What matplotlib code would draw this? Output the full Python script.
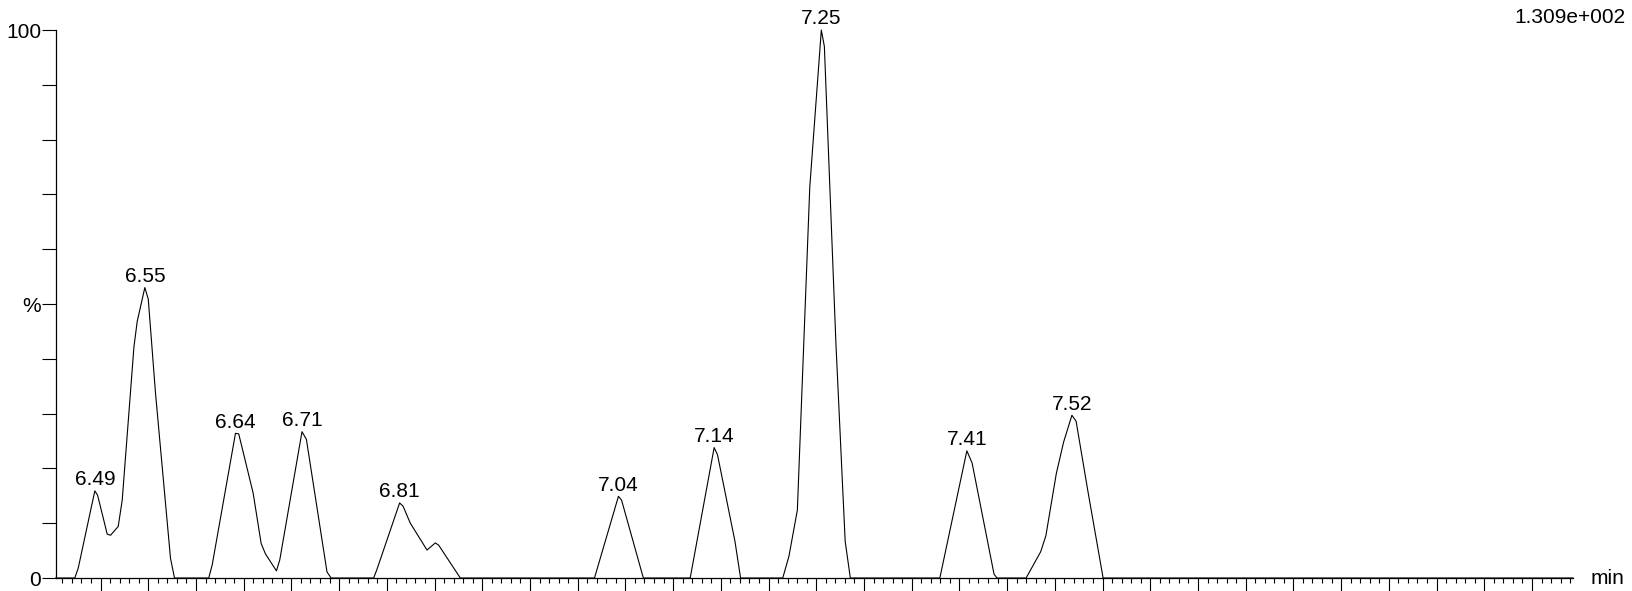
import matplotlib
matplotlib.use('Agg')
import matplotlib.pyplot as plt
import numpy as np

plt.rcParams['font.family'] = ['Liberation Sans', 'DejaVu Sans']

# chromatogram trace (retention time in min, relative intensity in %)
rt = [6.453, 6.473, 6.4766, 6.494, 6.4969, 6.507, 6.5105, 6.5185, 6.5227, 6.535,
      6.5384, 6.5464, 6.550, 6.5576, 6.5733, 6.5775,
      6.6134, 6.617, 6.6414, 6.6448, 6.6599, 6.6683, 6.6728, 6.6843, 6.6878, 6.7111,
      6.7157, 6.7373, 6.7416,
      6.7862, 6.7897, 6.8134, 6.817, 6.8246, 6.8421, 6.8508, 6.8543, 6.877,
      7.0176, 7.0427, 7.046, 7.0688,
      7.1179, 7.143, 7.1465, 7.1648, 7.1707,
      7.2149, 7.2214, 7.2302, 7.2432, 7.2553, 7.2585, 7.2706, 7.2803, 7.2857,
      7.3795, 7.4078, 7.4133, 7.4363, 7.4394,
      7.4699, 7.4852, 7.4906, 7.5016, 7.5092, 7.5179, 7.5223, 7.5343, 7.5506,
      8.043]
intensity = [0, 0, 1.8, 15.9, 15.1, 8.0, 7.8, 9.4, 14.2, 42.2,
             46.8, 53.0, 50.9, 33.7, 3.6, 0,
             0, 2.4, 26.4, 26.3, 15.5, 6.3, 4.4, 1.3, 3.3, 26.7,
             25.3, 1.1, 0,
             0, 1.6, 13.7, 13.1, 10.0, 5.1, 6.4, 6.0, 0,
             0, 14.9, 14.2, 0,
             0, 23.8, 22.5, 6.7, 0,
             0, 4.0, 12.4, 71.3, 100, 97.0, 42.8, 6.7, 0,
             0, 23.2, 21.0, 0.7, 0,
             0, 4.8, 7.7, 19.1, 24.8, 29.7, 28.6, 16.2, 0,
             0]

# labelled peaks
apex_rt = [6.494, 6.5464, 6.6414, 6.7111, 6.8134, 7.0427, 7.143, 7.2553, 7.4078, 7.5179]
apex_labels = ['6.49', '6.55', '6.64', '6.71', '6.81', '7.04', '7.14', '7.25', '7.41', '7.52']

y_ticks = [0, 50, 100]
y_ticklabels = ['0', '%', '100']
max_count = '1.309e+002'

W, H = 1632, 591
fig = plt.figure(figsize=(W / 100, H / 100), dpi=100)
ax = fig.add_axes([55.7 / W, 13 / H, (1573 - 55.7) / W, 548 / H])

ax.plot(rt, intensity, color='black', lw=0.8, clip_on=False)

# peak labels sit right on top of each apex
for t, lab in zip(apex_rt, apex_labels):
    ax.annotate(lab, (t, np.interp(t, rt, intensity)), xytext=(0, 1.2),
                textcoords='offset points', ha='center', va='bottom',
                fontsize=15, annotation_clip=False)

ax.set_xlim(6.453, 8.043)
ax.set_ylim(0, 100)

for side in ['top', 'right']:
    ax.spines[side].set_visible(False)
for side in ['left', 'bottom']:
    ax.spines[side].set_linewidth(0.9)

ax.set_xticks(np.arange(6.50, 8.001, 0.05))
ax.set_xticks(np.arange(6.46, 8.041, 0.01), minor=True)
ax.tick_params(axis='x', which='major', direction='out', length=9.5, width=0.8,
               labelbottom=False)
ax.tick_params(axis='x', which='minor', direction='out', length=3.8, width=0.8)

ax.set_yticks(y_ticks)
ax.set_yticklabels(y_ticklabels)
ax.set_yticks(np.arange(0, 101, 10), minor=True)
ax.tick_params(axis='y', which='both', direction='out', length=10, width=0.8,
               pad=0.5, labelsize=15)

fig.text(1626 / W, 1 - 17.7 / H, max_count, ha='right', va='center', fontsize=15)
fig.text(1591 / W, 1 - 579 / H, 'min', ha='left', va='center', fontsize=15)

fig.savefig('out.png', dpi=100)
